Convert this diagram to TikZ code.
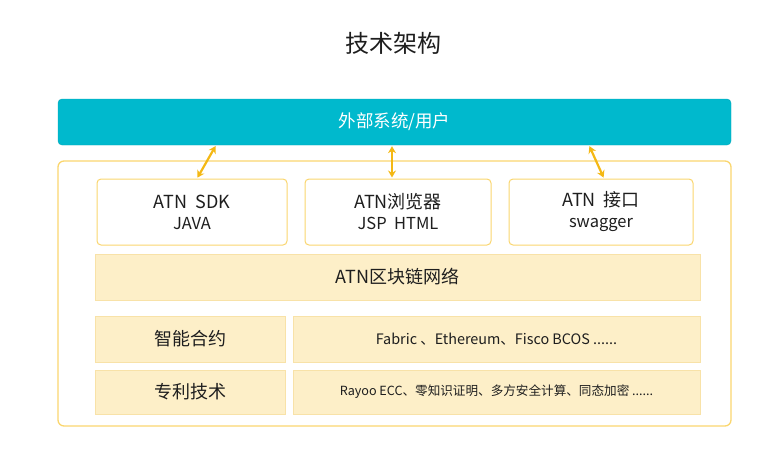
\documentclass[tikz,border=0pt]{standalone}
\usepackage{fontspec}
\setmainfont{Noto Sans CJK SC}
\usetikzlibrary{arrows.meta, positioning, calc}
\definecolor{barcolor}{RGB}{0,185,205}
\definecolor{framecolor}{RGB}{250,214,110}
\definecolor{layerfill}{RGB}{253,239,200}
\definecolor{layerdraw}{RGB}{248,226,168}
\definecolor{arrowcolor}{RGB}{244,184,20}
\definecolor{textcolor}{RGB}{30,30,30}
\tikzset{
  bar/.style    = {fill=barcolor, draw=barcolor!90!black, rounded corners=4pt,
                   text=white, font=\fontsize{17.5}{19}\selectfont},
  frame/.style  = {draw=framecolor, line width=1.3pt, rounded corners=6pt},
  tool/.style   = {draw=framecolor, line width=1pt, rounded corners=4pt, fill=white,
                   align=center, text=textcolor, font=\fontsize{18}{22}\selectfont},
  layer/.style  = {draw=layerdraw, fill=layerfill, text=textcolor, inner sep=0pt},
  link/.style   = {{Stealth[length=7pt,width=8pt]}-{Stealth[length=7pt,width=8pt]},
                   line width=2.2pt, color=arrowcolor, shorten <=1pt, shorten >=1pt},
}

\begin{document}
\begin{tikzpicture}[x=1pt, y=-1pt]
  \useasboundingbox (0,0) rectangle (772,451);
  % title
  \node[text=textcolor, font=\fontsize{24}{26}\selectfont] (title) at (393,43) {技术架构};
  % external systems
  \node[bar, minimum width=673pt, minimum height=46pt] (ext) at (394.5,122) {外部系统/用户};
  % platform frame
  \node[frame, minimum width=673pt, minimum height=265pt] (platform) at (394.5,293.5) {};
  % access tools
  \node[tool, minimum width=190pt, minimum height=66pt] (sdk) at (192,212)
    {ATN\ \ SDK\\[-1pt]{\fontsize{16.5}{18}\selectfont JAVA}};
  \node[tool, minimum width=186pt, minimum height=66pt] (browser) at (398,212)
    {ATN浏览器\\[-1pt]{\fontsize{16.5}{18}\selectfont JSP\ \ HTML}};
  \node[tool, minimum width=184pt, minimum height=66pt] (api) at (601,212)
    {ATN\ \ 接口\\[-1pt]{\fontsize{16.5}{18}\selectfont swagger}};
  % network and layers
  \node[layer, minimum width=605pt, minimum height=46pt,
        font=\fontsize{18}{20}\selectfont] (net) at (397.5,277) {ATN区块链网络};
  \node[layer, minimum width=190pt, minimum height=46pt,
        font=\fontsize{18}{20}\selectfont] (contract) at (190,339) {智能合约};
  \node[layer, minimum width=407pt, minimum height=46pt,
        font=\fontsize{14.4}{16}\selectfont] (chains) at (496.5,339)
    {Fabric 、Ethereum、Fisco BCOS ......};
  \node[layer, minimum width=190pt, minimum height=44pt,
        font=\fontsize{18}{20}\selectfont] (patent) at (190,392) {专利技术};
  \node[layer, minimum width=407pt, minimum height=44pt,
        font=\fontsize{12.6}{14}\selectfont] (crypto) at (496.5,392)
    {Rayoo ECC、零知识证明、多方安全计算、同态加密 ......};
  % links
  \draw[link] ([xshift=-178.5pt]ext.south) -- ([xshift=5pt]sdk.north);
  \draw[link] ([xshift=-2.5pt]ext.south) -- ([xshift=-6pt]browser.north);
  \draw[link] ([xshift=194.5pt]ext.south) -- ([xshift=3pt]api.north);
\end{tikzpicture}
\end{document}
